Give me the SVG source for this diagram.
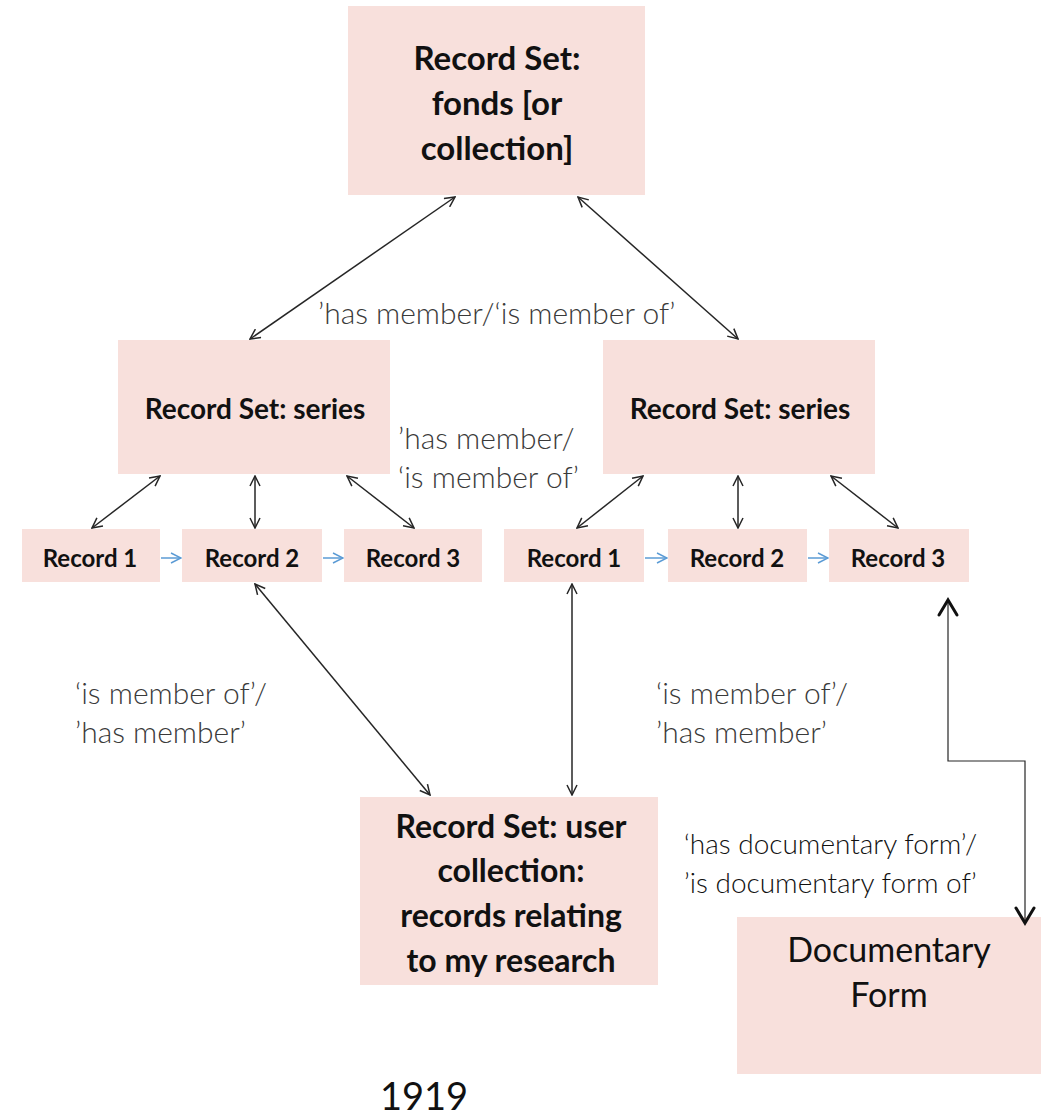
<svg xmlns="http://www.w3.org/2000/svg" width="1051" height="1116" viewBox="0 0 1051 1116">
<style>
.box{fill:#f8e0dc}
.t{font-family:Lato,"Liberation Sans",sans-serif;fill:#111;text-anchor:middle}
.b{font-weight:700}
.lbl{font-family:Lato,"Liberation Sans",sans-serif;font-weight:300;fill:#3a3a3a;font-size:30px}
.lblk{font-family:Lato,"Liberation Sans",sans-serif;font-weight:300;fill:#111;font-size:28px}
.c{stroke:#262626;stroke-width:1.5;fill:none;marker-start:url(#ah);marker-end:url(#ah)}
.bl{stroke:#5b9bd5;stroke-width:1.5;fill:none;marker-end:url(#bh)}
.e{stroke:#262626;stroke-width:1.2;fill:none}
.eh{stroke:#111;stroke-width:3;fill:none;stroke-linecap:round;stroke-linejoin:miter}
</style>
<defs>
<marker id="ah" viewBox="0 0 12 12" refX="11" refY="6" markerWidth="12" markerHeight="12" markerUnits="userSpaceOnUse" orient="auto-start-reverse">
<path d="M1,1 L11,6 L1,11" fill="none" stroke="#262626" stroke-width="1.5"/>
</marker>
<marker id="bh" viewBox="0 0 12 12" refX="11" refY="6" markerWidth="12" markerHeight="12" markerUnits="userSpaceOnUse" orient="auto">
<path d="M1,1 L11,6 L1,11" fill="none" stroke="#5b9bd5" stroke-width="1.5"/>
</marker>
</defs>
<g id="fonds">
<rect class="box" x="348" y="6" width="297" height="189"/>
<text class="t b" font-size="33" x="497" y="70">Record Set:</text>
<text class="t b" font-size="33" x="497" y="115">fonds [or</text>
<text class="t b" font-size="33" x="497" y="160">collection]</text>
</g>
<g id="series-left">
<rect class="box" x="118" y="340" width="272" height="134"/>
<text class="t b" font-size="28" x="255" y="419">Record Set: series</text>
</g>
<g id="series-right">
<rect class="box" x="603" y="340" width="272" height="134"/>
<text class="t b" font-size="28" x="740" y="419">Record Set: series</text>
</g>
<g id="rec-l1"><rect class="box" x="22" y="529" width="138" height="53"/><text class="t b" font-size="24" x="90" y="567">Record 1</text></g>
<g id="rec-l2"><rect class="box" x="182" y="529" width="140" height="53"/><text class="t b" font-size="24" x="252" y="567">Record 2</text></g>
<g id="rec-l3"><rect class="box" x="344" y="529" width="138" height="53"/><text class="t b" font-size="24" x="413" y="567">Record 3</text></g>
<g id="rec-r1"><rect class="box" x="504" y="529" width="140" height="53"/><text class="t b" font-size="24" x="574" y="567">Record 1</text></g>
<g id="rec-r2"><rect class="box" x="668" y="529" width="139" height="53"/><text class="t b" font-size="24" x="737" y="567">Record 2</text></g>
<g id="rec-r3"><rect class="box" x="829" y="529" width="140" height="53"/><text class="t b" font-size="24" x="898" y="567">Record 3</text></g>
<g id="user-collection">
<rect class="box" x="360" y="797" width="298" height="188"/>
<text class="t b" font-size="32" x="511" y="838">Record Set: user</text>
<text class="t b" font-size="32" x="511" y="882">collection:</text>
<text class="t b" font-size="32" x="511" y="927">records relating</text>
<text class="t b" font-size="32" x="511" y="972">to my research</text>
</g>
<g id="documentary-form">
<rect class="box" x="737" y="917" width="304" height="157"/>
<text class="t" font-size="34" x="889" y="962">Documentary</text>
<text class="t" font-size="34" x="889" y="1007">Form</text>
</g>
<g id="connectors">
<line class="c" x1="455" y1="197" x2="250" y2="339"/>
<line class="c" x1="578" y1="197" x2="738" y2="339"/>
<line class="c" x1="160" y1="476" x2="92" y2="528"/>
<line class="c" x1="255" y1="476" x2="255" y2="528"/>
<line class="c" x1="347" y1="476" x2="414" y2="528"/>
<line class="c" x1="643" y1="476" x2="577" y2="528"/>
<line class="c" x1="738" y1="476" x2="738" y2="528"/>
<line class="c" x1="831" y1="476" x2="898" y2="528"/>
<line class="c" x1="255" y1="584" x2="430" y2="795"/>
<line class="c" x1="572" y1="584" x2="572" y2="795"/>
<line class="bl" x1="161" y1="558" x2="181" y2="558"/>
<line class="bl" x1="323" y1="558" x2="343" y2="558"/>
<line class="bl" x1="645" y1="558" x2="667" y2="558"/>
<line class="bl" x1="808" y1="558" x2="828" y2="558"/>
<polyline class="e" points="948,600 948,761 1025,761 1025,923"/>
<path class="eh" d="M939,615 L948,600 L957,615"/>
<path class="eh" d="M1016,908 L1025,923 L1034,908"/>
</g>
<g id="labels">
<text class="lbl" x="318" y="324">’has member/‘is member of’</text>
<text class="lbl" x="398" y="449">’has member/</text>
<text class="lbl" x="398" y="488">‘is member of’</text>
<text class="lbl" x="75" y="704">‘is member of’/</text>
<text class="lbl" x="75" y="743">’has member’</text>
<text class="lbl" x="656" y="704">‘is member of’/</text>
<text class="lbl" x="656" y="743">’has member’</text>
<text class="lblk" x="684" y="854">‘has documentary form’/</text>
<text class="lblk" x="684" y="893">’is documentary form of’</text>
<text class="t" font-size="38" x="424" y="1110">1919</text>
</g>
</svg>
